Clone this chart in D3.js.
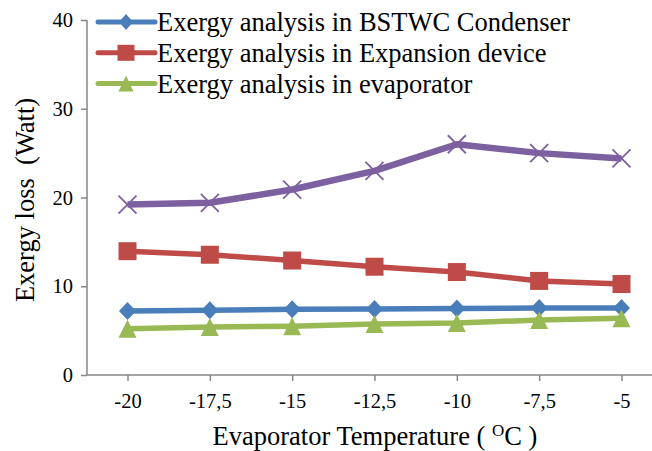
<!DOCTYPE html>
<html>
<head>
<meta charset="utf-8">
<script src="https://cdn.jsdelivr.net/npm/d3@7"></script>
<style>
  body { margin: 0; background: #fff; }
</style>
</head>
<body>
<div id="chart"></div>
<script>
// data
var temps = ["-20", "-17,5", "-15", "-12,5", "-10", "-7,5", "-5"];
var condenser = [7.2, 7.3, 7.4, 7.45, 7.5, 7.55, 7.55];
var expansion = [13.95, 13.55, 12.9, 12.2, 11.6, 10.6, 10.25];
var evaporator = [5.2, 5.4, 5.5, 5.75, 5.85, 6.2, 6.4];
var total = [19.2, 19.4, 20.9, 23.0, 26.0, 25.0, 24.4];
var yTicks = [0, 10, 20, 30, 40];

var series = [
  {name: "Exergy analysis in BSTWC Condenser", values: condenser, color: "#4a7ebb", marker: "diamond", legend: true},
  {name: "Exergy analysis in Expansion device", values: expansion, color: "#be4b48", marker: "square", legend: true},
  {name: "Exergy analysis in evaporator", values: evaporator, color: "#98b954", marker: "triangle", legend: true},
  {name: "Total", values: total, color: "#7d60a0", marker: "x", legend: false}
];

var FONT = "'Liberation Serif', 'Times New Roman', serif";
var width = 652, height = 451;
var margin = {top: 20, right: 0, bottom: 76, left: 87};

var svg = d3.select("#chart")
  .append("svg")
    .attr("width", width)
    .attr("height", height)
    .attr("font-family", FONT);

var x = d3.scalePoint()
  .domain(temps)
  .range([127.5, 621.5]);

var y = d3.scaleLinear()
  .domain([0, 40])
  .range([height - margin.bottom, margin.top]);

// x axis line + ticks
var xAxis = svg.append("g")
  .attr("transform", "translate(0," + y(0) + ")")
  .call(d3.axisBottom(x).tickSize(6).tickPadding(12));
xAxis.attr("font-family", FONT);
xAxis.select(".domain").attr("d", "M" + margin.left + ",0H" + width);
xAxis.selectAll("line").attr("stroke", "#868686").attr("stroke-width", 1.5);
xAxis.select(".domain").attr("stroke", "#868686").attr("stroke-width", 1.5);
xAxis.selectAll("text").attr("font-size", 20.5).attr("fill", "#000");

// y axis
var yAxis = svg.append("g")
  .attr("transform", "translate(" + margin.left + ",0)")
  .call(d3.axisLeft(y).tickValues(yTicks).tickSize(6).tickPadding(8));
yAxis.attr("font-family", FONT);
yAxis.selectAll("line").attr("stroke", "#868686").attr("stroke-width", 1.5);
yAxis.select(".domain").attr("stroke", "#868686").attr("stroke-width", 1.5)
  .attr("d", "M0," + y(40) + "V" + y(0));
yAxis.selectAll("text").attr("font-size", 20.5).attr("fill", "#000");

// axis titles
var xt = svg.append("text")
  .attr("x", 375)
  .attr("y", 445)
  .attr("text-anchor", "middle")
  .attr("font-size", 26.5);
xt.append("tspan").text("Evaporator Temperature ( ");
xt.append("tspan").attr("font-size", 17).attr("dy", -9).text("O");
xt.append("tspan").attr("dy", 9).text("C )");

svg.append("text")
  .attr("transform", "translate(34,200) rotate(-90)")
  .attr("text-anchor", "middle")
  .attr("font-size", 26.5)
  .attr("xml:space", "preserve")
  .text("Exergy loss  (Watt)");

// markers
function drawMarker(g, type, color, w, h) {
  var a = w / 2, b = (h || w) / 2;
  if (type === "diamond") {
    g.append("path").attr("d", "M0," + (-b) + "L" + a + ",0L0," + b + "L" + (-a) + ",0Z").attr("fill", color);
  } else if (type === "square") {
    g.append("rect").attr("x", -a).attr("y", -b).attr("width", 2 * a).attr("height", 2 * b).attr("fill", color);
  } else if (type === "triangle") {
    g.append("path").attr("d", "M0," + (-b) + "L" + a + "," + b + "L" + (-a) + "," + b + "Z").attr("fill", color);
  } else {
    g.append("path").attr("d", "M" + (-a) + "," + (-b) + "L" + a + "," + b + "M" + a + "," + (-b) + "L" + (-a) + "," + b)
      .attr("stroke", color).attr("stroke-width", 1.8).attr("fill", "none");
  }
}

var line = d3.line()
  .x(function(d, i) { return x(temps[i]); })
  .y(function(d) { return y(d); });

var order = [3, 1, 0, 2];
order.forEach(function(k) {
  var s = series[k];
  svg.append("path")
    .datum(s.values)
    .attr("fill", "none")
    .attr("stroke", s.color)
    .attr("stroke-width", k === 3 ? 6.5 : 5.5)
    .attr("stroke-linejoin", "round")
    .attr("d", line);
  s.values.forEach(function(v, i) {
    var g = svg.append("g").attr("transform", "translate(" + x(temps[i]) + "," + y(v) + ")");
    drawMarker(g, s.marker, s.color, s.marker === "diamond" ? 17 : 18, 18);
  });
});

// legend
var legend = svg.append("g").attr("transform", "translate(98,22)");
series.filter(function(s) { return s.legend; }).forEach(function(s, i) {
  var row = legend.append("g").attr("transform", "translate(0," + (i * 30.8) + ")");
  row.append("line")
    .attr("x1", 0).attr("x2", 57)
    .attr("stroke", s.color).attr("stroke-width", 5)
    .attr("stroke-linecap", "round");
  var mg = row.append("g").attr("transform", "translate(28,0)");
  if (s.marker === "diamond") drawMarker(mg, s.marker, s.color, 14, 16);
  else if (s.marker === "square") drawMarker(mg, s.marker, s.color, 17, 16);
  else drawMarker(mg, s.marker, s.color, 15, 16);
  row.append("text")
    .attr("x", 59)
    .attr("y", 9)
    .attr("font-size", 26.5)
    .text(s.name);
});
</script>
</body>
</html>
